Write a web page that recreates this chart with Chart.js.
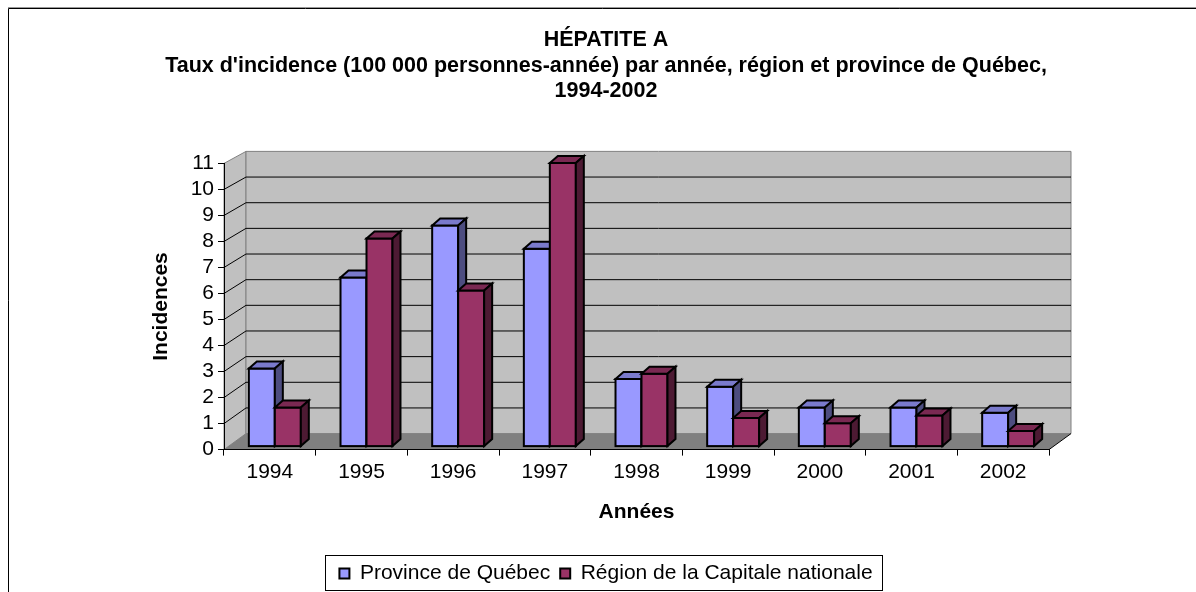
<!DOCTYPE html>
<html lang="fr">
<head>
<meta charset="utf-8">
<title>Hépatite A</title>
<script src="https://cdn.jsdelivr.net/npm/chart.js@4.4.1/dist/chart.umd.min.js"></script>
<style>
  html, body { margin: 0; padding: 0; background: #fff; overflow: hidden; }
  canvas { display: block; }
</style>
</head>
<body>
<canvas id="chart" width="1196" height="592"></canvas>
<script>
"use strict";

const years = ["1994", "1995", "1996", "1997", "1998", "1999", "2000", "2001", "2002"];
const quebec = [3.0, 6.5, 8.5, 7.6, 2.6, 2.3, 1.5, 1.5, 1.3];
const capitale = [1.5, 8.0, 6.0, 10.9, 2.8, 1.1, 0.9, 1.2, 0.6];
const seriesNames = ["Province de Québec", "Région de la Capitale nationale"];
const yMax = 11;
const titleLines = [
  "HÉPATITE A",
  "Taux d'incidence (100 000 personnes-année) par année, région et province de Québec,",
  "1994-2002",
];

// couleurs des faces : avant, dessus, côté
const faces = [
  { front: "#9999FF", top: "#7A7ACC", side: "#4D4D80" },
  { front: "#993366", top: "#7A2952", side: "#4D1A33" },
];

const FONT = "'Liberation Sans', Arial, sans-serif";
const WALL_DX = 22;
const WALL_DY_BOTTOM = -16;
const WALL_DY_TOP = -12;
const BAR_DX = 8;
const BAR_DY = -7;
const BAR_SHIFT_X = 5;
const BAR_SHIFT_Y = -3;

Chart.defaults.font.family = FONT;
Chart.defaults.color = "#000";

/**
 * Décalage vertical vers le mur du fond pour une position y donnée.
 */
function depthY(area, y) {
  const t = (area.bottom - y) / (area.bottom - area.top);
  return WALL_DY_BOTTOM + (WALL_DY_TOP - WALL_DY_BOTTOM) * t;
}

function poly(ctx, pts) {
  ctx.beginPath();
  ctx.moveTo(pts[0][0], pts[0][1]);
  for (let i = 1; i < pts.length; i++) ctx.lineTo(pts[i][0], pts[i][1]);
  ctx.closePath();
}

/**
 * Cadre, murs, plancher et quadrillage du fond.
 */
const wallsPlugin = {
  id: "walls",
  beforeDraw(chart) {
    const { ctx, chartArea: a } = chart;
    const yScale = chart.scales.y;
    const L = a.left, R = a.right, T = a.top, B = a.bottom;
    const dyT = depthY(a, T), dyB = depthY(a, B);

    ctx.save();
    ctx.fillStyle = "#fff";
    ctx.fillRect(0, 0, chart.width, chart.height);

    // cadre
    ctx.lineWidth = 1;
    ctx.strokeStyle = "#999";
    ctx.beginPath();
    ctx.moveTo(8, 7.5);
    ctx.lineTo(chart.width, 7.5);
    ctx.stroke();
    ctx.strokeStyle = "#000";
    ctx.beginPath();
    ctx.moveTo(8.5, chart.height);
    ctx.lineTo(8.5, 8.5);
    ctx.lineTo(chart.width, 8.5);
    ctx.stroke();

    // mur de gauche
    ctx.fillStyle = "#C0C0C0";
    ctx.strokeStyle = "#808080";
    poly(ctx, [[L, T], [L + WALL_DX, T + dyT], [L + WALL_DX, B + dyB], [L, B]]);
    ctx.fill();
    ctx.stroke();

    // mur du fond
    poly(ctx, [[L + WALL_DX, T + dyT], [R + WALL_DX, T + dyT], [R + WALL_DX, B + dyB], [L + WALL_DX, B + dyB]]);
    ctx.fill();
    ctx.stroke();

    // plancher
    ctx.fillStyle = "#808080";
    poly(ctx, [[L, B], [L + WALL_DX, B + dyB], [R + WALL_DX, B + dyB], [R, B]]);
    ctx.fill();
    ctx.strokeStyle = "#000";
    ctx.beginPath();
    ctx.moveTo(R, B);
    ctx.lineTo(R + WALL_DX, B + dyB);
    ctx.stroke();

    // quadrillage
    ctx.strokeStyle = "#000";
    for (let v = 1; v < yMax; v++) {
      const yf = yScale.getPixelForValue(v);
      const yb = yf + depthY(a, yf);
      ctx.beginPath();
      ctx.moveTo(L, yf);
      ctx.lineTo(L + WALL_DX, yb);
      ctx.lineTo(R + WALL_DX, yb);
      ctx.stroke();
    }
    ctx.restore();
  },
};

/**
 * Dessine les barres en relief (face avant, dessus, côté).
 */
const barsPlugin = {
  id: "bars3d",
  beforeDatasetsDraw(chart) {
    chart.ctx.save();
    chart.ctx.translate(BAR_SHIFT_X, BAR_SHIFT_Y);
  },
  afterDatasetsDraw(chart) {
    const ctx = chart.ctx;
    ctx.lineWidth = 2;
    ctx.lineJoin = "miter";
    ctx.strokeStyle = "#000";
    for (let i = 0; i < years.length; i++) {
      for (let d = 0; d < chart.data.datasets.length; d++) {
        const el = chart.getDatasetMeta(d).data[i];
        const { x, y, base, width } = el.getProps(["x", "y", "base", "width"], true);
        const l = x - width / 2, r = x + width / 2;
        const c = faces[d];

        ctx.fillStyle = c.front;
        ctx.fillRect(l, y, width, base - y);
        ctx.strokeRect(l, y, width, base - y);

        ctx.fillStyle = c.top;
        poly(ctx, [[l, y], [l + BAR_DX, y + BAR_DY], [r + BAR_DX, y + BAR_DY], [r, y]]);
        ctx.fill();
        ctx.stroke();

        ctx.fillStyle = c.side;
        poly(ctx, [[r, y], [r + BAR_DX, y + BAR_DY], [r + BAR_DX, base + BAR_DY], [r, base]]);
        ctx.fill();
        ctx.stroke();
      }
    }
    ctx.restore();
  },
};

/**
 * Cadre autour de la légende.
 */
const legendBoxPlugin = {
  id: "legendBox",
  afterDraw(chart) {
    const boxes = chart.legend.legendHitBoxes;
    if (!boxes || !boxes.length) return;
    let x1 = Infinity, x2 = -Infinity, y1 = Infinity, y2 = -Infinity;
    boxes.forEach((b) => {
      x1 = Math.min(x1, b.left);
      x2 = Math.max(x2, b.left + b.width);
      y1 = Math.min(y1, b.top);
      y2 = Math.max(y2, b.top + b.height);
    });
    const ctx = chart.ctx;
    ctx.save();
    ctx.strokeStyle = "#000";
    ctx.lineWidth = 1;
    ctx.strokeRect(Math.round(x1 - 14) + 0.5, Math.round(y1 - 8) + 0.5, Math.round(x2 - x1 + 24), Math.round(y2 - y1 + 14));
    ctx.restore();
  },
};

new Chart(document.querySelector("#chart"), {
  type: "bar",
  data: {
    labels: years,
    datasets: [
      {
        label: seriesNames[0],
        data: quebec,
        backgroundColor: faces[0].front,
        borderColor: "#000",
        borderWidth: 2,
      },
      {
        label: seriesNames[1],
        data: capitale,
        backgroundColor: faces[1].front,
        borderColor: "#000",
        borderWidth: 2,
      },
    ],
  },
  options: {
    responsive: false,
    animation: false,
    devicePixelRatio: 1,
    categoryPercentage: 0.567,
    barPercentage: 1,
    layout: { padding: { left: 16, right: 0, top: 0, bottom: -2 } },
    plugins: {
      title: {
        display: true,
        text: titleLines,
        font: { size: 21.5, weight: "bold", lineHeight: 1.2 },
        color: "#000",
        padding: { top: 27, bottom: 59 },
      },
      legend: {
        position: "bottom",
        labels: {
          boxWidth: 10,
          boxHeight: 10,
          padding: 10,
          font: { size: 21 },
          color: "#000",
        },
      },
      tooltip: { enabled: false },
    },
    scales: {
      x: {
        grid: { display: true, drawOnChartArea: false, drawTicks: true, tickLength: 6, color: "#000" },
        border: { display: true, color: "#000" },
        ticks: { font: { size: 21 }, color: "#000", padding: 4, maxRotation: 0 },
        title: {
          display: true,
          text: "Années",
          font: { size: 21, weight: "bold" },
          color: "#000",
          padding: { top: 11, bottom: 28 },
        },
      },
      y: {
        min: 0,
        max: yMax,
        grid: { display: true, drawOnChartArea: false, drawTicks: true, tickLength: 6, color: "#000" },
        border: { display: true, color: "#000" },
        ticks: { stepSize: 1, autoSkip: false, font: { size: 21 }, color: "#000", padding: 4 },
        title: {
          display: true,
          text: "Incidences",
          font: { size: 21, weight: "bold" },
          color: "#000",
          padding: { top: 133, bottom: 0 },
        },
        afterFit(scale) {
          scale.width = 208;
        },
      },
      y2: {
        position: "right",
        display: true,
        grid: { display: false },
        border: { display: false },
        ticks: { display: false },
        afterFit(scale) {
          scale.width = 147;
        },
      },
    },
  },
  plugins: [wallsPlugin, barsPlugin, legendBoxPlugin],
});
</script>
</body>
</html>
